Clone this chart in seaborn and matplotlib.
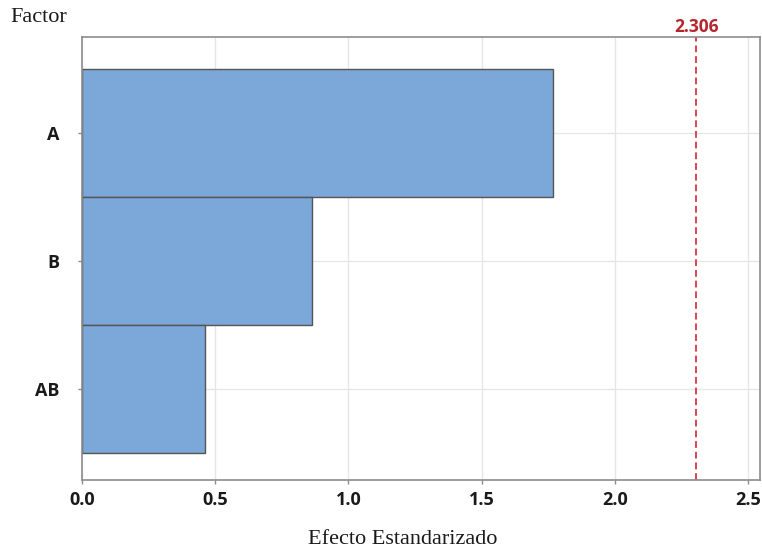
import matplotlib
matplotlib.use("Agg")
import matplotlib.pyplot as plt
import seaborn as sns
import pandas as pd

# Standardized effects (Pareto chart of effects)
factors = ["A", "B", "AB"]
effects = [1.768, 0.863, 0.462]
critical_value = 2.306
x_ticks = [0.0, 0.5, 1.0, 1.5, 2.0, 2.5]

df = pd.DataFrame({"Factor": factors, "Efecto": effects})

sns.set_theme(style="white")
plt.rcParams["font.family"] = ["Open Sans", "DejaVu Sans"]

fig = plt.figure(figsize=(7.62, 5.5), dpi=100)
ax = fig.add_axes([82 / 762, 1 - 480 / 550, (760 - 82) / 762, (480 - 37) / 550])

sns.barplot(data=df, x="Efecto", y="Factor", orient="h", order=factors,
            color="#7BA7D9", saturation=1, width=1.0,
            edgecolor="#555555", linewidth=1.0, ax=ax)

ax.set_axisbelow(True)
ax.grid(True, axis="both", color="#e6e6e6", linewidth=1.0)

ax.axvline(critical_value, color="#d9454f", linestyle=(0, (3.5, 2)), linewidth=1.4)
ax.text(critical_value, 1.003, f"{critical_value:.3f}", transform=ax.get_xaxis_transform(),
        ha="center", va="bottom", color="#b3272d", fontsize=12.5, fontweight="bold")

ax.set_xlim(0, 2.545)
ax.set_ylim(2.71, -0.75)
ax.set_xticks(x_ticks)
ax.set_xticklabels([f"{t:.1f}" for t in x_ticks])
ax.set_xlabel("")
ax.set_ylabel("")

for spine in ax.spines.values():
    spine.set_color("#8c8c8c")
    spine.set_linewidth(1.2)

ax.tick_params(axis="both", which="both", length=3, width=1, color="#8c8c8c",
               labelsize=13, labelcolor="#1a1a1a", direction="out",
               bottom=True, left=True)
ax.tick_params(axis="x", pad=5)
ax.tick_params(axis="y", pad=13)
for lbl in ax.get_xticklabels() + ax.get_yticklabels():
    lbl.set_fontweight("bold")

fig.text(10 / 762, 1 - 17 / 550, "Factor", family=["Liberation Serif", "DejaVu Serif"],
         fontsize=16, ha="left", va="center", color="#1a1a1a")
fig.text(403 / 762, 1 - 540 / 550, "Efecto Estandarizado",
         family=["Liberation Serif", "DejaVu Serif"], fontsize=16,
         ha="center", va="center", color="#1a1a1a")

fig.savefig("out.png", dpi=100, facecolor="white")
